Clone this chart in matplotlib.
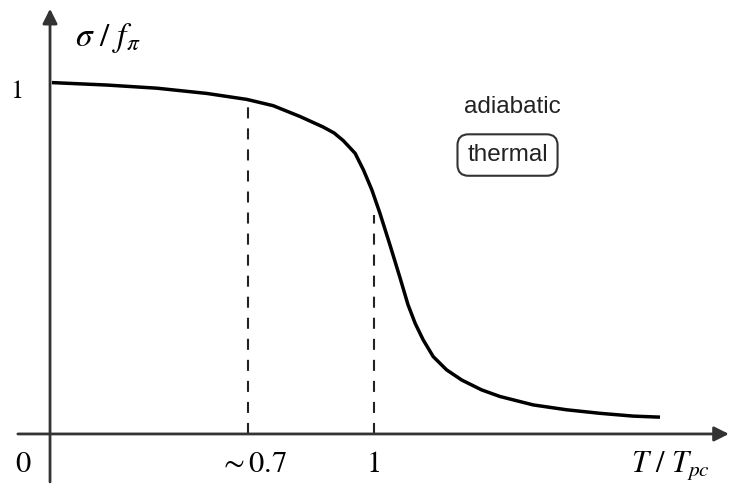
import matplotlib
matplotlib.use("Agg")
import matplotlib.pyplot as plt

plt.rcParams['mathtext.fontset'] = 'stix'

# curve: T/Tpc vs sigma/f_pi
t_vals = [0.233, 0.364, 0.483, 0.602, 0.697, 0.760, 0.824, 0.879, 0.905, 0.927,
          0.955, 0.975, 0.995, 1.014, 1.038, 1.062, 1.081, 1.098, 1.117, 1.141,
          1.173, 1.209, 1.256, 1.300, 1.379, 1.459, 1.538, 1.617, 1.681]
sigma_vals = [1.004, 0.997, 0.988, 0.973, 0.956, 0.938, 0.907, 0.877, 0.860, 0.838,
              0.802, 0.754, 0.697, 0.631, 0.540, 0.446, 0.369, 0.316, 0.269, 0.221,
              0.183, 0.154, 0.126, 0.107, 0.083, 0.069, 0.059, 0.051, 0.048]

# dashed markers: x position and height where they meet the curve
mark_x = [0.7, 1.0]
mark_top = [0.956, 0.625]
mark_labels = [r'$\sim 0.7$', r'$1$']
label_x = [0.713, 0.998]

fig = plt.figure(figsize=(7.3, 4.91), dpi=100)
ax = fig.add_axes([0, 0, 1, 1])
ax.set_xlim(0.1095, 1.8476)
ax.set_ylim(-0.163, 1.24)
ax.axis('off')

axis_col = '#333333'
x0 = 0.2286  # where the vertical axis sits

# axes with arrow heads
ax.annotate('', xy=(1.845, 0), xytext=(0.152, 0),
            arrowprops=dict(arrowstyle='-|>', color=axis_col, lw=2,
                            mutation_scale=22, shrinkA=0, shrinkB=0))
ax.annotate('', xy=(x0, 1.215), xytext=(x0, -0.137),
            arrowprops=dict(arrowstyle='-|>', color=axis_col, lw=2,
                            mutation_scale=22, shrinkA=0, shrinkB=0))

# dashed guide lines
for mx, mt, lx, lab in zip(mark_x, mark_top, label_x, mark_labels):
    ax.plot([mx, mx], [0, mt], color='#222222', lw=1.5, ls=(0, (5.3, 4.8)))
    ax.text(lx, -0.083, lab, ha='center', va='center', fontsize=22)

ax.plot(t_vals, sigma_vals, color='black', lw=2.5, solid_joinstyle='round',
        solid_capstyle='butt')

ax.text(0.1476, 0.98, r'$1$', ha='center', va='center', fontsize=19)
ax.text(0.1655, -0.083, r'$0$', ha='center', va='center', fontsize=22)
ax.text(0.3667, 1.13, r'$\sigma\ /\ f_\pi$', ha='center', va='center', fontsize=24)
ax.text(1.707, -0.09, r'$T\ /\ T_{pc}$', ha='center', va='center', fontsize=22)

ax.text(1.3298, 0.934, 'adiabatic', ha='center', va='center', fontsize=17.5,
        family='Liberation Sans', color='#222222')
ax.text(1.3179, 0.797, 'thermal', ha='center', va='center', fontsize=17.5,
        family='Liberation Sans', color='#222222',
        bbox=dict(boxstyle='round,pad=0.4,rounding_size=0.45', fc='white',
                  ec='#333333', lw=1.5))

fig.savefig('out.png', dpi=100)
